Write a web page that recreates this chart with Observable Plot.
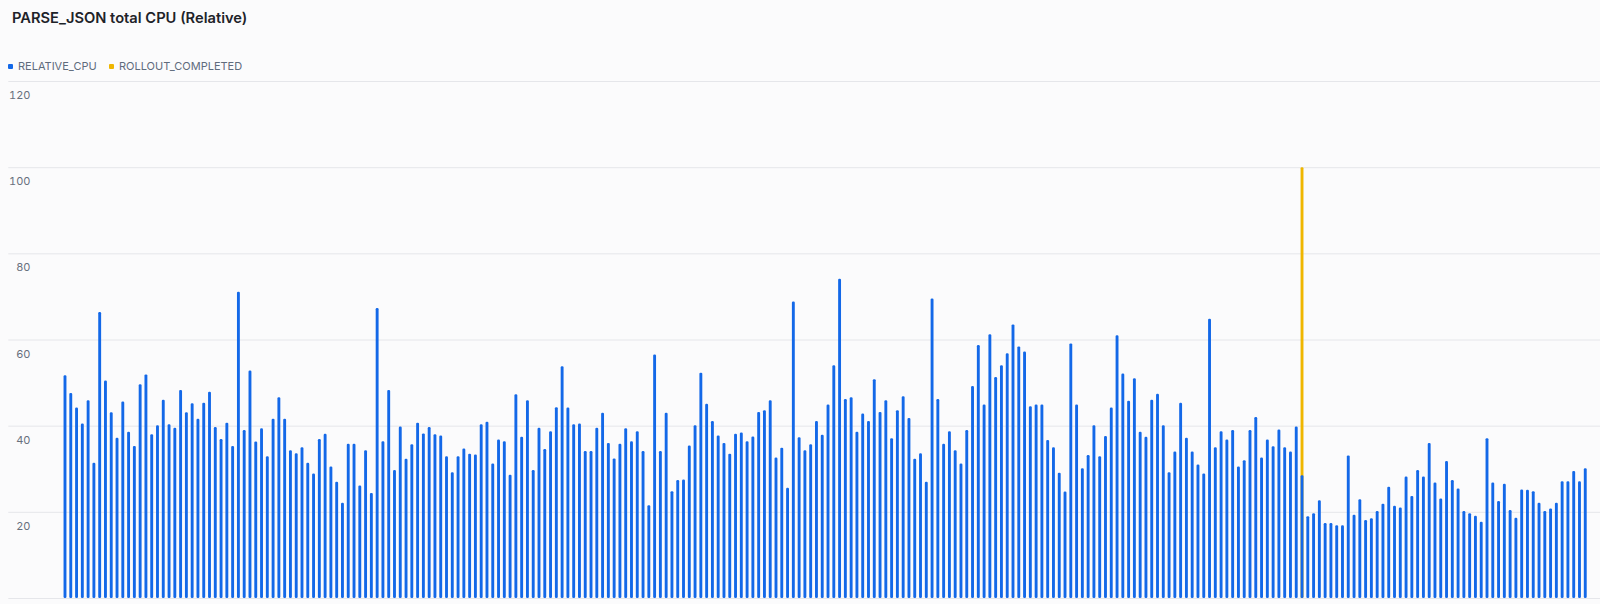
<!DOCTYPE html>
<html>
<head>
<meta charset="utf-8">
<script src="https://cdn.jsdelivr.net/npm/d3@7"></script>
<script src="https://cdn.jsdelivr.net/npm/@observablehq/plot@0.6"></script>
<style>
  html, body { margin: 0; padding: 0; background: #fbfbfc; }
  body { font-family: Inter, "Noto Sans", sans-serif; }
  #wrap { position: relative; width: 1600px; height: 604px; overflow: hidden; }
  #head { position: relative; height: 74px; }
  #title { position: absolute; left: 12px; top: 8px; font-size: 14.7px; font-weight: 600; color: #1e2329; line-height: 20px; white-space: nowrap; }
  .leg { position: absolute; top: 60px; font-size: 11px; color: #5f6b7c; line-height: 12px; display: flex; align-items: center; white-space: nowrap; }
  .sw { width: 5px; height: 5px; border-radius: 1px; margin-right: 5px; }
  svg { display: block; }
</style>
</head>
<body>
<div id="wrap">
  <div id="head">
    <div id="title">PARSE_JSON total CPU (Relative)</div>
    <div class="leg" style="left:8px"><span class="sw" style="background:#1368e8"></span>RELATIVE_CPU</div>
    <div class="leg" style="left:109px"><span class="sw" style="background:#efb600"></span>ROLLOUT_COMPLETED</div>
  </div>
  <div id="chart"></div>
</div>
<script>
const relativeCpu = [
  51.7, 47.6, 44.2, 40.5, 45.9, 31.4, 66.4, 50.5, 43.1, 37.2,
  45.6, 38.6, 35.3, 49.6, 51.9, 38.0, 40.1, 46.0, 40.3, 39.5,
  48.3, 43.1, 45.2, 41.6, 45.3, 47.9, 39.7, 36.9, 40.7, 35.3,
  71.1, 39.0, 52.8, 36.3, 39.4, 32.9, 41.6, 46.6, 41.6, 34.3,
  33.6, 35.0, 31.4, 28.9, 36.9, 38.1, 30.5, 27.0, 22.1, 35.8,
  35.8, 26.1, 34.3, 24.4, 67.3, 36.4, 48.3, 29.7, 39.8, 32.3,
  35.7, 40.7, 38.2, 39.7, 38.0, 37.7, 32.9, 29.2, 32.9, 34.7,
  33.5, 33.3, 40.3, 40.9, 31.2, 36.8, 36.4, 28.6, 47.3, 37.4,
  45.9, 29.7, 39.5, 34.6, 38.7, 44.3, 53.8, 44.2, 40.3, 40.5,
  34.1, 34.1, 39.5, 43.0, 36.0, 32.4, 35.8, 39.4, 36.4, 38.7,
  34.1, 21.5, 56.5, 34.1, 43.0, 24.8, 27.4, 27.5, 35.4, 40.1,
  52.3, 45.1, 41.1, 37.7, 36.0, 33.5, 38.1, 38.4, 36.4, 37.5,
  43.2, 43.6, 45.9, 32.6, 34.9, 25.6, 68.8, 37.3, 34.3, 35.7,
  41.1, 37.9, 44.9, 54.0, 74.1, 46.2, 46.6, 38.6, 42.8, 41.1,
  50.8, 43.2, 45.9, 37.1, 43.6, 46.8, 41.8, 32.3, 33.6, 27.0,
  69.5, 46.2, 35.8, 38.7, 34.3, 31.2, 39.0, 49.2, 58.7, 44.9,
  61.2, 51.3, 54.0, 56.8, 63.5, 58.4, 57.2, 44.5, 44.9, 44.9,
  36.7, 35.0, 29.1, 24.7, 59.1, 44.9, 30.1, 33.2, 40.1, 32.9,
  37.6, 44.2, 61.0, 52.1, 45.8, 51.0, 38.6, 37.4, 46.0, 47.4,
  40.1, 29.2, 34.0, 45.3, 37.2, 34.0, 31.0, 28.9, 64.8, 35.0,
  38.7, 36.8, 39.0, 30.5, 32.0, 39.0, 42.0, 32.6, 36.8, 35.2,
  39.1, 35.0, 34.0, 39.8, 28.5, 19.0, 19.7, 22.7, 17.4, 17.4,
  16.9, 16.9, 33.1, 19.3, 22.9, 18.1, 18.5, 20.2, 21.9, 25.8,
  21.4, 21.0, 28.2, 23.7, 29.7, 28.2, 36.0, 26.8, 23.1, 31.8,
  27.4, 25.4, 20.2, 19.7, 19.1, 17.7, 37.1, 26.8, 22.5, 26.5,
  20.4, 18.6, 25.2, 25.1, 24.8, 22.1, 20.2, 20.8, 22.1, 27.1,
  27.1, 29.5, 27.1, 30.1
];
const rolloutAt = [214];
const rolloutValue = [100];
const yTicks = [20, 40, 60, 80, 100, 120];
const gridValues = [0, 20, 40, 60, 80, 100, 120];

const n = relativeCpu.length;
const marginLeft = 60.66, marginRight = 10.4;

const chart = Plot.plot({
  width: 1600,
  height: 530,
  marginLeft, marginRight,
  marginTop: 7,
  marginBottom: 6,
  x: { type: "band", domain: d3.range(n), padding: 0.5, axis: null },
  y: { domain: [0, 120], axis: null },
  style: { background: "transparent", fontFamily: "Inter, 'Noto Sans', sans-serif", fontSize: "11px" },
  marks: [
    Plot.ruleY(gridValues, { stroke: "#e5e6ea", strokeWidth: 1, insetLeft: -(marginLeft - 8.3), insetRight: -marginRight }),
    Plot.barY(rolloutAt, { x: d => d, y: (d, i) => rolloutValue[i], fill: "#efb600", rx: 1 }),
    Plot.barY(relativeCpu, { x: (d, i) => i, y: d => d, fill: "#1368e8", rx: 1.2 }),
    Plot.axisY({ ticks: yTicks, tickSize: 0, tickPadding: marginLeft - 30, dy: 14, label: null, fill: "#68707d", textAnchor: "end" })
  ]
});
document.getElementById("chart").appendChild(chart);
</script>
</body>
</html>
